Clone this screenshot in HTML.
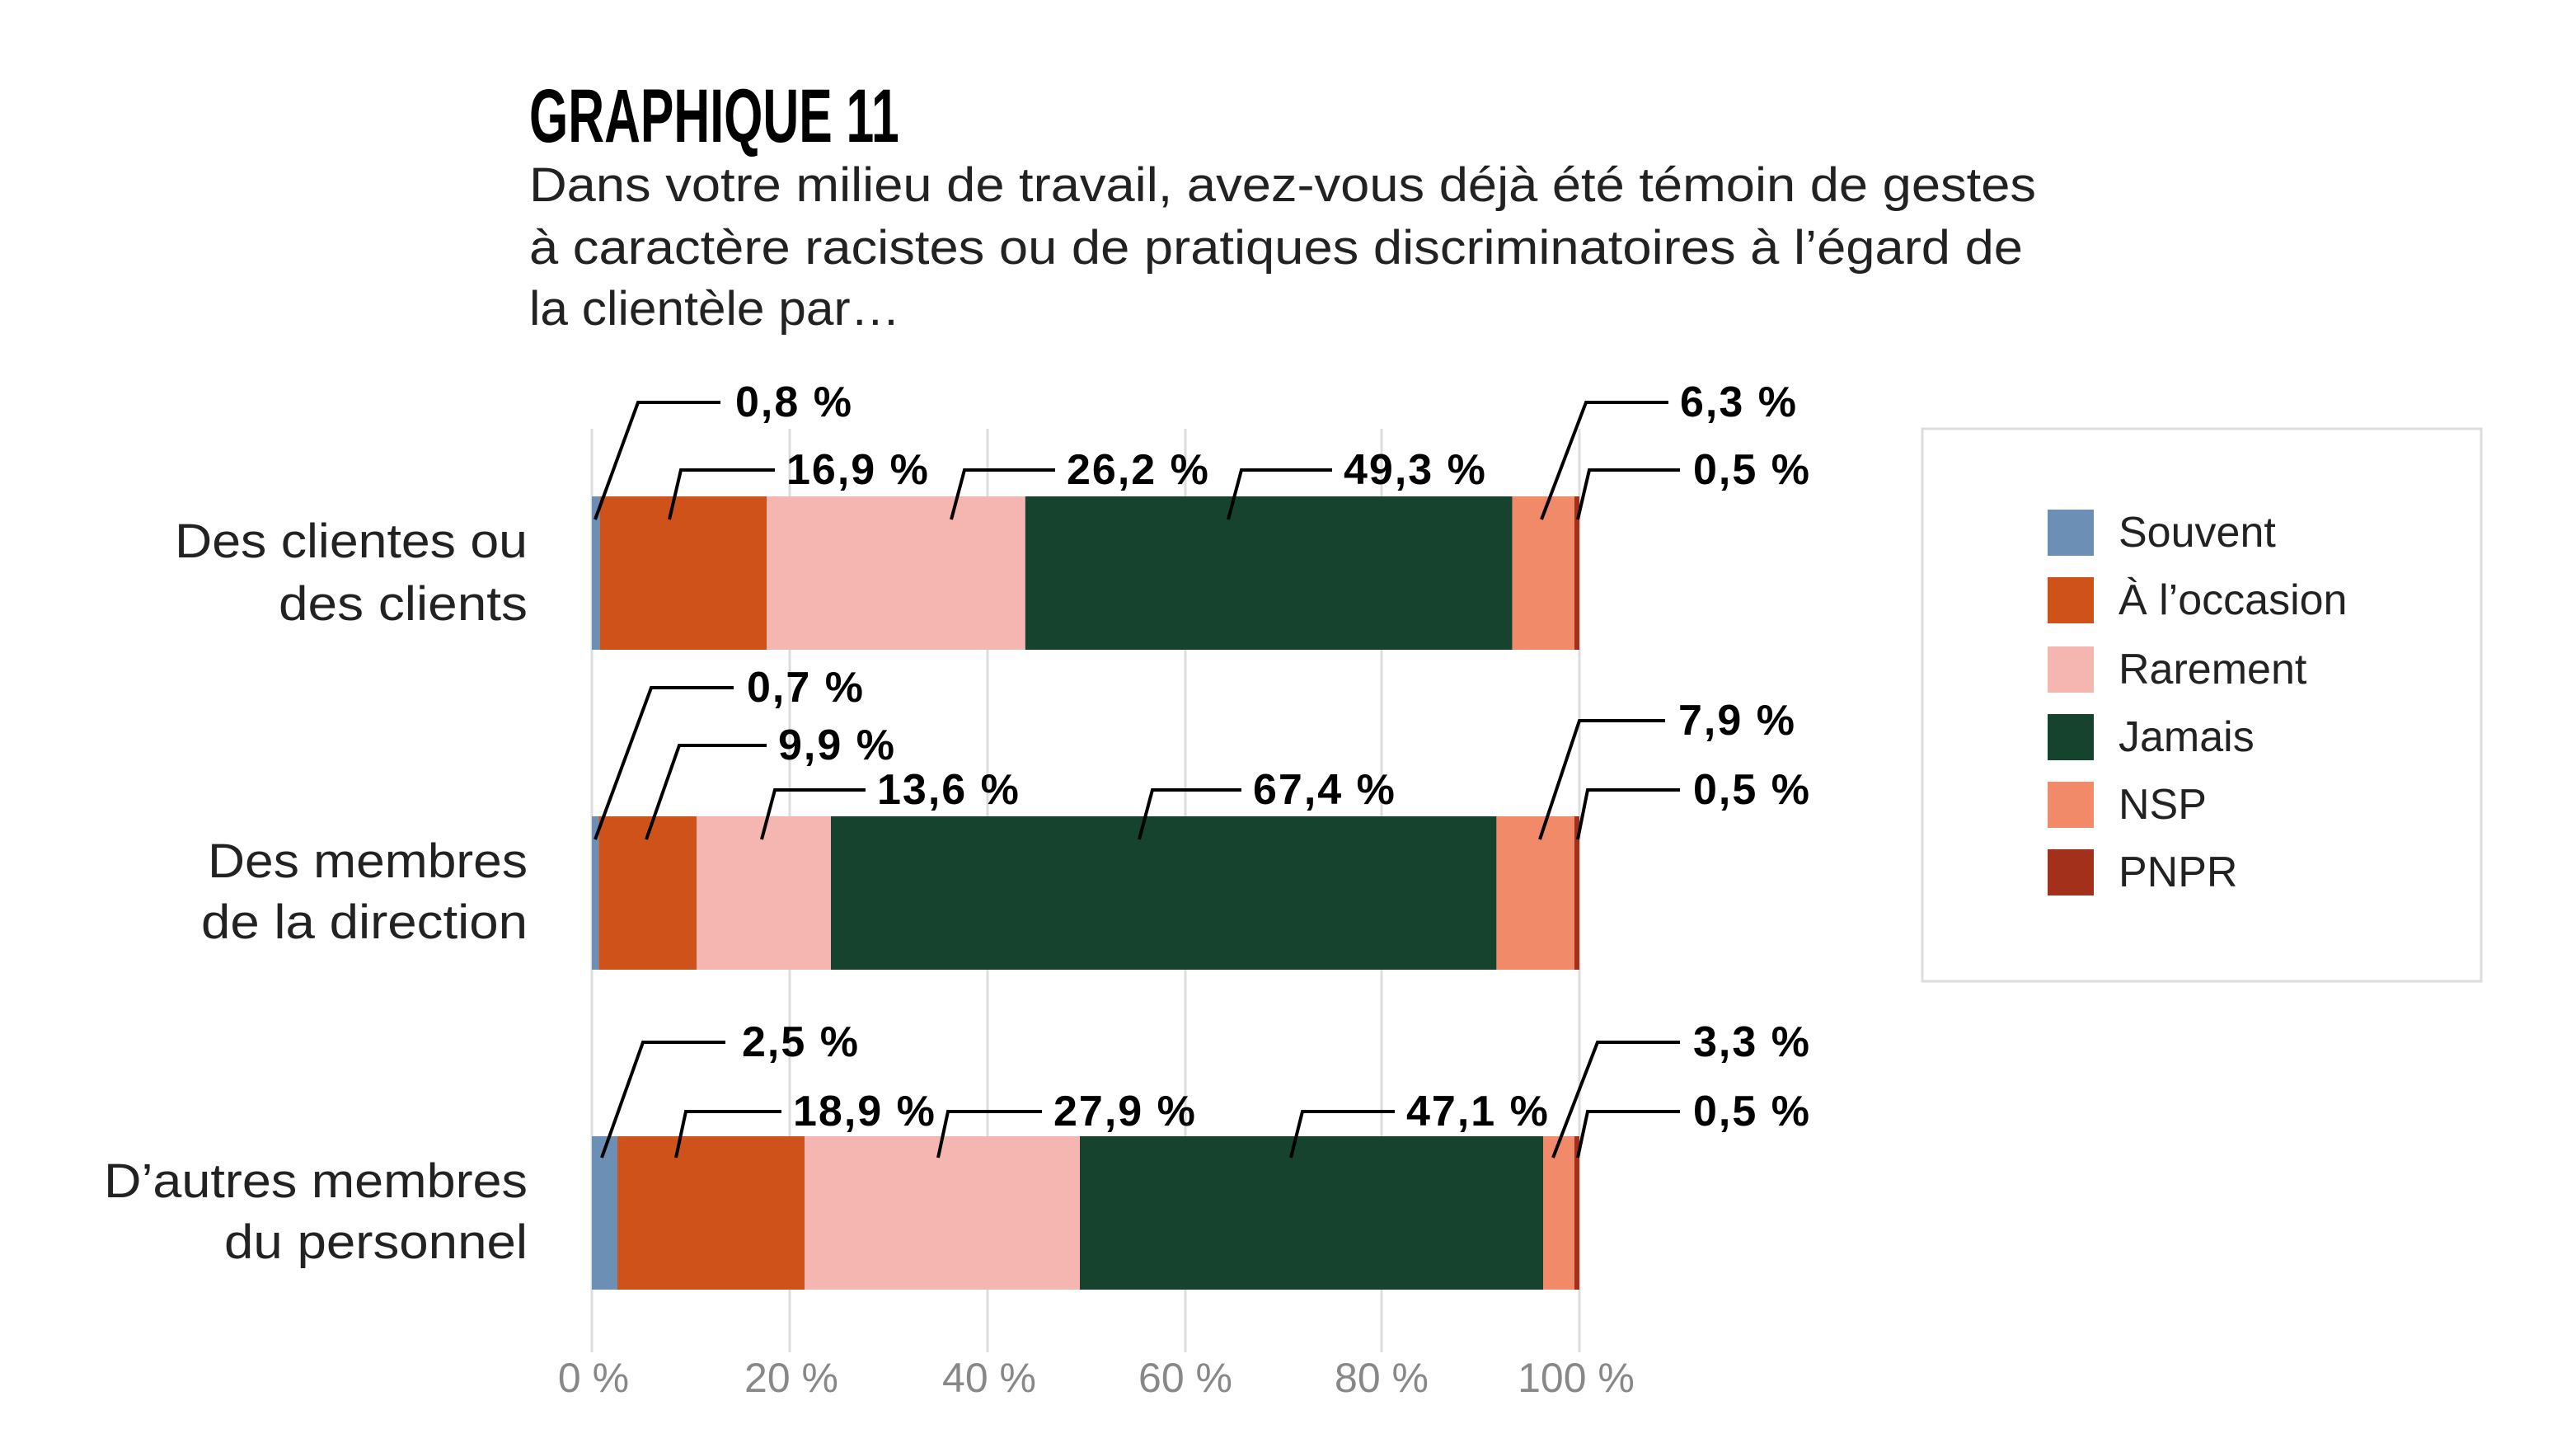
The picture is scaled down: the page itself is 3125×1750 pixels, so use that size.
<!DOCTYPE html>
<html><head><meta charset="utf-8"><style>html,body{margin:0;padding:0;background:#fff}svg{display:block}</style></head>
<body>
<svg xmlns="http://www.w3.org/2000/svg" width="3125" height="1750" viewBox="0 0 1562.5 875">
<rect width="1562.5" height="875" fill="#fff"/>
<text x="321" y="86" font-family="Liberation Sans, sans-serif" font-weight="bold" font-size="46" transform="translate(321 0) scale(0.66 1) translate(-321 0)" fill="#000">GRAPHIQUE 11</text>
<g font-family="Liberation Sans, sans-serif" font-size="29" fill="#222" lengthAdjust="spacingAndGlyphs">
<text x="321" y="122" textLength="914" lengthAdjust="spacingAndGlyphs">Dans votre milieu de travail, avez-vous déjà été témoin de gestes</text>
<text x="321" y="160" textLength="906" lengthAdjust="spacingAndGlyphs">à caractère racistes ou de pratiques discriminatoires à l’égard de</text>
<text x="321" y="197" textLength="225" lengthAdjust="spacingAndGlyphs">la clientèle par…</text>
</g>
<g stroke="#dcdcdc" stroke-width="1.5">
<line x1="359" y1="260" x2="359" y2="820"/><line x1="479" y1="260" x2="479" y2="820"/>
<line x1="599" y1="260" x2="599" y2="820"/><line x1="719" y1="260" x2="719" y2="820"/>
<line x1="838" y1="260" x2="838" y2="820"/><line x1="958" y1="260" x2="958" y2="820"/>
</g>
<g font-family="Liberation Sans, sans-serif" font-size="25" fill="#888" text-anchor="middle">
<text x="360" y="844">0 %</text><text x="480" y="844">20 %</text><text x="600" y="844">40 %</text>
<text x="719" y="844">60 %</text><text x="838" y="844">80 %</text><text x="956" y="844">100 %</text>
</g>
<g font-family="Liberation Sans, sans-serif" font-size="29" fill="#222" text-anchor="end">
<text x="320" y="338" textLength="214" lengthAdjust="spacingAndGlyphs">Des clientes ou</text><text x="320" y="376" textLength="151" lengthAdjust="spacingAndGlyphs">des clients</text>
<text x="320" y="532" textLength="194" lengthAdjust="spacingAndGlyphs">Des membres</text><text x="320" y="569" textLength="198" lengthAdjust="spacingAndGlyphs">de la direction</text>
<text x="320" y="726" textLength="257" lengthAdjust="spacingAndGlyphs">D’autres membres</text><text x="320" y="763" textLength="184" lengthAdjust="spacingAndGlyphs">du personnel</text>
</g>
<g>
<rect x="359" y="301" width="4.8" height="93" fill="#6b8fb5"/><rect x="363.8" y="301" width="101.2" height="93" fill="#cf521b"/><rect x="465" y="301" width="156.9" height="93" fill="#f5b5b0"/><rect x="621.9" y="301" width="295.4" height="93" fill="#15432d"/><rect x="917.3" y="301" width="37.7" height="93" fill="#f08a69"/><rect x="955" y="301" width="3" height="93" fill="#a3301a"/>
<rect x="359" y="495" width="4.2" height="93" fill="#6b8fb5"/><rect x="363.2" y="495" width="59.3" height="93" fill="#cf521b"/><rect x="422.5" y="495" width="81.5" height="93" fill="#f5b5b0"/><rect x="504" y="495" width="403.7" height="93" fill="#15432d"/><rect x="907.7" y="495" width="47.3" height="93" fill="#f08a69"/><rect x="955" y="495" width="3" height="93" fill="#a3301a"/>
<rect x="359" y="689" width="15.5" height="93" fill="#6b8fb5"/><rect x="374.5" y="689" width="113.5" height="93" fill="#cf521b"/><rect x="488" y="689" width="167" height="93" fill="#f5b5b0"/><rect x="655" y="689" width="281" height="93" fill="#15432d"/><rect x="936" y="689" width="19" height="93" fill="#f08a69"/><rect x="955" y="689" width="3" height="93" fill="#a3301a"/>
</g>
<g fill="none" stroke="#000" stroke-width="2">
<polyline points="361,315 387,244 437,244"/><polyline points="406,315 413,285 470,285"/><polyline points="577,315 585,285 640,285"/><polyline points="745,315 753,285 808,285"/><polyline points="935,315 962,244 1012,244"/><polyline points="957,315 964,285 1019,285"/>
<polyline points="361,509 395,417 445,417"/><polyline points="392,509 412,452 465,452"/><polyline points="462,509 470,479 525,479"/><polyline points="691,509 699,479 753,479"/><polyline points="934,509 958,437 1010,437"/><polyline points="957,509 963,479 1019,479"/>
<polyline points="365,702 390,632 440,632"/><polyline points="410,702 416,674 474,674"/><polyline points="569,702 575,674 632,674"/><polyline points="783,702 790,674 846,674"/><polyline points="942,702 969,632 1019,632"/><polyline points="957,702 963,674 1019,674"/>
</g>
<g font-family="Liberation Sans, sans-serif" font-weight="bold" font-size="26" fill="#000" dominant-baseline="central" letter-spacing="1">
<text x="446" y="244">0,8 %</text><text x="477" y="285">16,9 %</text><text x="647" y="285">26,2 %</text><text x="815" y="285">49,3 %</text><text x="1019" y="244">6,3 %</text><text x="1027" y="285">0,5 %</text>
<text x="453" y="417">0,7 %</text><text x="472" y="452">9,9 %</text><text x="532" y="479">13,6 %</text><text x="760" y="479">67,4 %</text><text x="1018" y="437">7,9 %</text><text x="1027" y="479">0,5 %</text>
<text x="450" y="632">2,5 %</text><text x="481" y="674">18,9 %</text><text x="639" y="674">27,9 %</text><text x="853" y="674">47,1 %</text><text x="1027" y="632">3,3 %</text><text x="1027" y="674">0,5 %</text>
</g>
<rect x="1166" y="260" width="339" height="335" fill="#fff" stroke="#dcdcdc" stroke-width="1.5"/>
<g>
<rect x="1242" y="309" width="28" height="28" fill="#6b8fb5"/><rect x="1242" y="350" width="28" height="28" fill="#cf521b"/><rect x="1242" y="392" width="28" height="28" fill="#f5b5b0"/><rect x="1242" y="433" width="28" height="28" fill="#15432d"/><rect x="1242" y="474" width="28" height="28" fill="#f08a69"/><rect x="1242" y="515" width="28" height="28" fill="#a3301a"/>
</g>
<g font-family="Liberation Sans, sans-serif" font-size="26" fill="#222" dominant-baseline="central">
<text x="1285" y="323">Souvent</text><text x="1285" y="364">À l’occasion</text><text x="1285" y="406">Rarement</text><text x="1285" y="447">Jamais</text><text x="1285" y="488">NSP</text><text x="1285" y="529">PNPR</text>
</g>
</svg>
</body></html>
